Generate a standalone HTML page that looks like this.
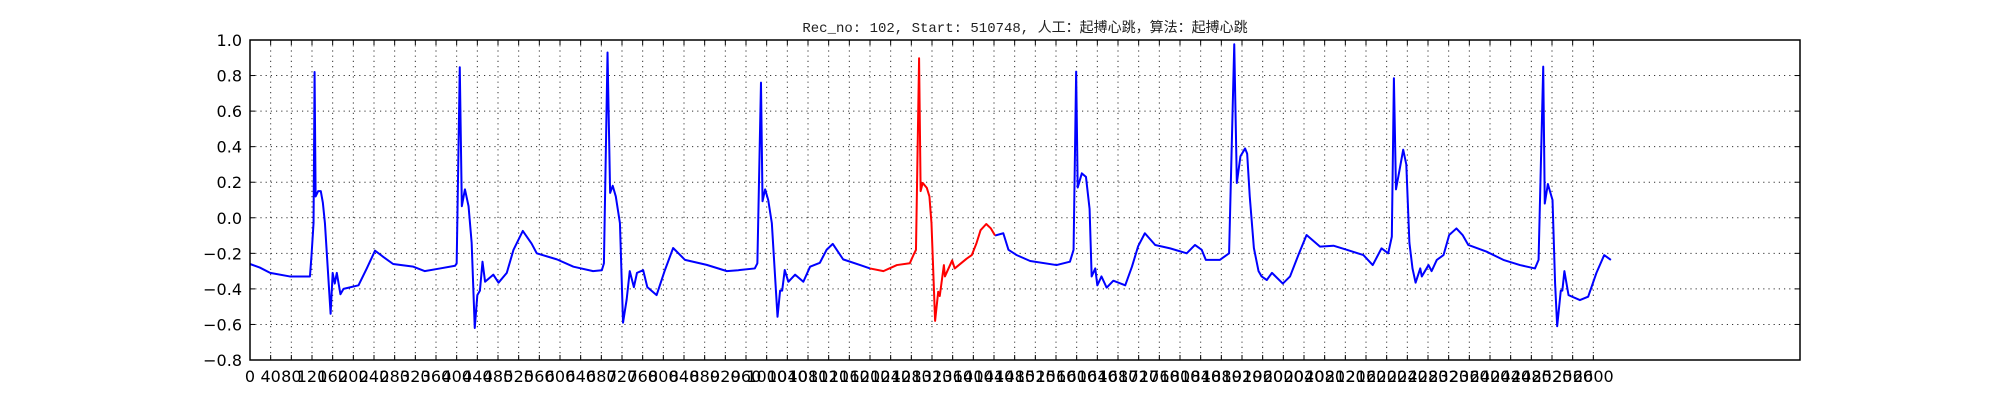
<!DOCTYPE html>
<html><head><meta charset="utf-8">
<style>
html,body{margin:0;padding:0;background:#fff;}
svg{display:block;}
</style></head>
<body>
<svg id="chart" width="2000" height="400" xmlns="http://www.w3.org/2000/svg">
<rect x="0" y="0" width="2000" height="400" fill="#fff"/>
<text x="1025" y="32" text-anchor="middle" font-family="'Liberation Mono','Noto Sans CJK SC',monospace" font-size="14" fill="#222">Rec_no: 102, Start: 510748, 人工：起搏心跳，算法：起搏心跳</text>
<g id="grid"></g>
<g id="series"></g>
<rect x="250" y="40" width="1550" height="320" fill="none" stroke="#000" stroke-width="1.5"/>
<g id="ticks"></g>
</svg>
<script>
const sampleIdx = [0,19,39,77,116,119,123,125,127,132,137,141,145,156,160,164,168,175,181,210,226,242,258,277,316,338,368,397,
400,406,410,416,423,429,435,440,445,450,455,471,481,497,510,528,545,555,594,626,664,681,
685,692,697,702,708,716,722,729,735,743,749,761,769,787,803,819,842,884,923,945,948,977,
982,989,992,997,1003,1010,1021,1026,1030,1035,1042,1055,1071,1084,1103,1116,1128,1148,1181,1200,
1226,1252,1277,1284,1289,1295,1298,1302,1310,1315,1319,1326,1332,1335,1343,1345,1359,1364,1387,1397,1406,1414,1425,1434,1442,
1458,1468,1484,1510,1561,1587,1594,1599,1602,1610,1618,1625,1629,1636,1640,1648,1658,1671,1694,1707,1719,1732,1752,1781,1813,1829,1842,1850,1877,1895,
1905,1910,1917,1926,1930,1935,1943,1952,1958,1968,1978,1999,2013,2029,2045,2071,2097,2123,2155,2173,2190,2203,2210,
2214,2218,2225,2232,2238,2244,2250,2256,2265,2268,2281,2287,2297,2310,2321,2335,2347,2358,2393,2426,2458,2487,2494,
2503,2506,2512,2516,2521,2526,2530,2537,2540,2544,2552,2574,2590,2606,2621,2634];
const signalVals = [-0.26,-0.28,-0.31,-0.33,-0.33,-0.215,-0.03,0.82,0.12,0.15,0.15,0.085,-0.03,-0.54,-0.31,-0.37,-0.31,-0.43,-0.40,-0.38,-0.285,-0.185,-0.22,-0.26,-0.275,-0.30,-0.285,-0.27,
-0.256,0.847,0.065,0.16,0.065,-0.14,-0.62,-0.435,-0.41,-0.247,-0.36,-0.32,-0.365,-0.31,-0.18,-0.074,-0.145,-0.2,-0.234,-0.275,-0.30,-0.295,
-0.256,0.93,0.14,0.18,0.12,-0.03,-0.59,-0.46,-0.30,-0.39,-0.31,-0.295,-0.39,-0.435,-0.295,-0.17,-0.237,-0.265,-0.30,-0.295,-0.294,-0.285,
-0.256,0.76,0.093,0.16,0.10,-0.03,-0.557,-0.41,-0.41,-0.294,-0.36,-0.32,-0.36,-0.275,-0.253,-0.18,-0.147,-0.234,-0.266,-0.285,
-0.30,-0.266,-0.256,-0.21,-0.18,0.897,0.15,0.196,0.168,0.12,-0.03,-0.58,-0.416,-0.44,-0.266,-0.33,-0.24,-0.285,-0.23,-0.21,-0.144,-0.07,-0.035,-0.06,-0.10,
-0.087,-0.18,-0.21,-0.243,-0.266,-0.247,-0.18,0.822,0.17,0.25,0.23,0.05,-0.33,-0.285,-0.38,-0.33,-0.393,-0.354,-0.38,-0.275,-0.16,-0.087,-0.153,-0.172,-0.2,-0.153,-0.18,-0.237,-0.237,-0.2,
0.976,0.196,0.346,0.39,0.36,0.12,-0.17,-0.30,-0.33,-0.35,-0.31,-0.37,-0.33,-0.21,-0.097,-0.162,-0.157,-0.18,-0.21,-0.266,-0.172,-0.2,-0.106,
0.785,0.16,0.27,0.383,0.30,-0.14,-0.285,-0.365,-0.285,-0.33,-0.266,-0.30,-0.237,-0.21,-0.097,-0.06,-0.097,-0.153,-0.19,-0.237,-0.266,-0.285,-0.237,
0.85,0.08,0.19,0.15,0.1,-0.37,-0.61,-0.41,-0.41,-0.30,-0.435,-0.463,-0.444,-0.31,-0.21,-0.237];
const highlightRange = [1200, 1442];
const xTickVals = [];
for (let t = 0; t <= 2600; t += 40) xTickVals.push(t);
const yTickVals = [-0.8,-0.6,-0.4,-0.2,0.0,0.2,0.4,0.6,0.8,1.0];
const yTickLabels = ["\u22120.8","\u22120.6","\u22120.4","\u22120.2","0.0","0.2","0.4","0.6","0.8","1.0"];

const L=250,R=1800,T=40,B=360, XMAX=3000, YMIN=-0.8, YMAX=1.0;
const xs = v => L + (v/XMAX)*(R-L);
const ys = v => B - (v-YMIN)/(YMAX-YMIN)*(B-T);
const NS="http://www.w3.org/2000/svg";
const grid=document.getElementById('grid'), ticks=document.getElementById('ticks'), series=document.getElementById('series');
function mk(tag, attrs, parent){const e=document.createElementNS(NS,tag);for(const k in attrs)e.setAttribute(k,attrs[k]);parent.appendChild(e);return e;}

xTickVals.forEach(t=>{
  const x=xs(t);
  const g=mk('line',{x1:x,x2:x,y1:T,y2:B,stroke:'#333','stroke-width':1,'stroke-dasharray':'1.2,4'},grid);
  
  
  const tb=mk('line',{x1:x,x2:x,y1:B,y2:B-5,stroke:'#000','stroke-width':1},ticks);
  
  
  const tt=mk('line',{x1:x,x2:x,y1:T,y2:T+5,stroke:'#000','stroke-width':1},ticks);
  
  
  const lb=mk('text',{x:x,y:382,'text-anchor':'middle','font-family':"'DejaVu Sans','Liberation Sans',sans-serif",'font-size':16,fill:'#000'},ticks);
  lb.textContent=String(t);
  
  
});
yTickVals.forEach((v,i)=>{
  const y=ys(v);
  const g=mk('line',{x1:L,x2:R,y1:y,y2:y,stroke:'#333','stroke-width':1,'stroke-dasharray':'1.2,4'},grid);
  
  
  const tl=mk('line',{x1:L,x2:L+5,y1:y,y2:y,stroke:'#000','stroke-width':1},ticks);
  
  
  const tr=mk('line',{x1:R,x2:R-5,y1:y,y2:y,stroke:'#000','stroke-width':1},ticks);
  
  
  const lb=mk('text',{x:L-8,y:y+6,'text-anchor':'end','font-family':"'DejaVu Sans','Liberation Sans',sans-serif",'font-size':16,fill:'#000'},ticks);
  lb.textContent=yTickLabels[i];
  
  
});

function seg(filterFn){
  const pts=[];
  sampleIdx.forEach((s,i)=>{ if(filterFn(s)) pts.push(xs(s).toFixed(2)+','+ys(signalVals[i]).toFixed(2)); });
  return pts.join(' ');
}
const b1=mk('polyline',{points:seg(s=>s<=highlightRange[0]),fill:'none',stroke:'#0000ff','stroke-width':2,'stroke-linejoin':'round'},series);


const b2=mk('polyline',{points:seg(s=>s>=highlightRange[1]),fill:'none',stroke:'#0000ff','stroke-width':2,'stroke-linejoin':'round'},series);


const rd=mk('polyline',{points:seg(s=>s>=highlightRange[0]&&s<=highlightRange[1]),fill:'none',stroke:'#ff0000','stroke-width':2,'stroke-linejoin':'round'},series);


</script>
</body></html>
